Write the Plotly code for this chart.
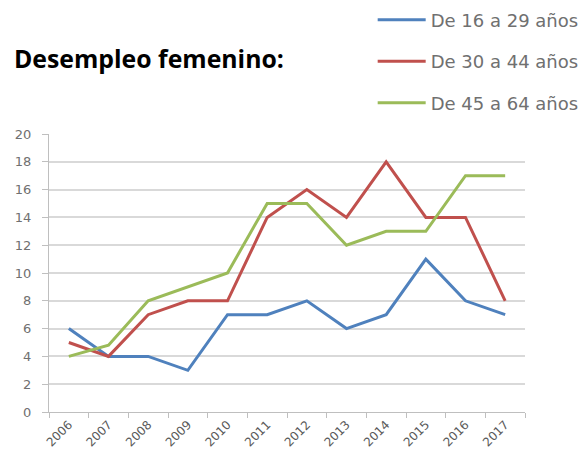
import plotly.graph_objects as go

years = ["2006", "2007", "2008", "2009", "2010", "2011", "2012", "2013", "2014", "2015", "2016", "2017"]
serie_16_29 = [6, 4, 4, 3, 7, 7, 8, 6, 7, 11, 8, 7]
serie_30_44 = [5, 4, 7, 8, 8, 14, 16, 14, 18, 14, 14, 8]
serie_45_64 = [4, 4.8, 8, 9, 10, 15, 15, 12, 13, 13, 17, 17]
names = ["De 16 a 29 años", "De 30 a 44 años", "De 45 a 64 años"]
colors = ["#4F81BD", "#C0504D", "#9BBB59"]

fig = go.Figure()
for i, (nm, vals) in enumerate(zip(names, [serie_16_29, serie_30_44, serie_45_64])):
    fig.add_trace(go.Scatter(x=years, y=vals, mode="lines", name=nm,
                             legendgroup=f"g{i}",
                             line=dict(color=colors[i], width=3)))

fig.update_layout(
    width=580, height=462,
    margin=dict(l=49, r=55, t=134, b=50, autoexpand=False),
    paper_bgcolor="white", plot_bgcolor="white",
    showlegend=True,
    legend=dict(x=0.68, y=1.476, xanchor="left", yanchor="top",
                font=dict(family="DejaVu Sans", size=18, color="#707070"),
                tracegroupgap=15, itemwidth=48, bgcolor="rgba(0,0,0,0)"),
    annotations=[dict(text="<b>Desempleo femenino:</b>", xref="paper", yref="paper",
                      x=-0.0777, y=1.273, xanchor="left", yanchor="middle", showarrow=False,
                      font=dict(family="Open Sans", size=24.8, color="black"))],
)
fig.update_xaxes(type="category", range=[-0.5, 11.5], tickson="boundaries",
                 ticks="outside", ticklen=5, tickcolor="#bfbfbf",
                 showline=True, linecolor="#bfbfbf", linewidth=1,
                 showgrid=False, tickangle=-45,
                 tickfont=dict(family="DejaVu Sans", size=12, color="#595959"))
fig.update_yaxes(range=[0, 20], dtick=2, ticks="outside", ticklen=6, tickcolor="#bfbfbf",
                 ticklabelstandoff=8,
                 showline=True, linecolor="#bfbfbf", linewidth=1,
                 showgrid=True, gridcolor="#d9d9d9", gridwidth=1.5, zeroline=False,
                 tickfont=dict(family="DejaVu Sans", size=13, color="#707070"))

fig.write_html("out.html", post_script="document.body.style.margin='0';",
               config={"displayModeBar": False})
